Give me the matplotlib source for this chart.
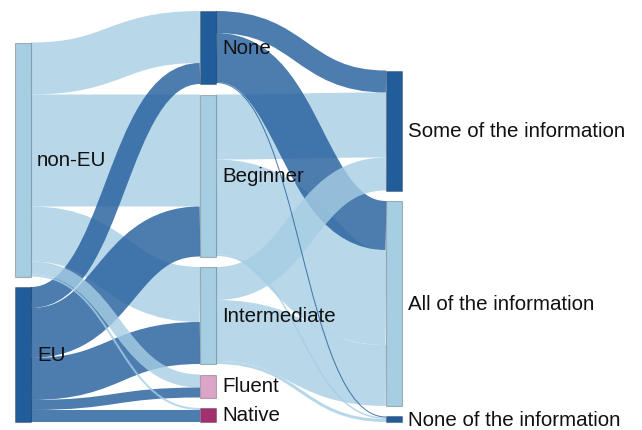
import matplotlib
matplotlib.use("Agg")
import matplotlib.pyplot as plt
from matplotlib.path import Path
from matplotlib.patches import PathPatch, Rectangle

# nodes, one list per column
origins = ["non-EU", "EU"]
levels = ["None", "Beginner", "Intermediate", "Fluent", "Native"]
outcomes = ["Some of the information", "All of the information",
            "None of the information"]

# origin -> language level (rows: origins, cols: levels)
origin_to_level = [
    [52, 112, 55, 13, 2],   # non-EU
    [21, 50, 42, 10, 12],   # EU
]
# language level -> information understood (rows: levels, cols: outcomes)
level_to_outcome = [
    [22, 49, 1],     # None
    [65, 95, 1.5],   # Beginner
    [33, 61, 3],     # Intermediate
    [0, 0, 0],       # Fluent
    [0, 0, 0],       # Native
]

LIGHT = "#a6cee3"
DARK = "#215d9b"
node_colors = {
    "non-EU": LIGHT, "EU": DARK,
    "None": DARK, "Beginner": LIGHT, "Intermediate": LIGHT,
    "Fluent": "#dba5c8", "Native": "#a3316f",
    "Some of the information": DARK, "All of the information": LIGHT,
    "None of the information": DARK,
}

columns = [origins, levels, outcomes]
col_x = [15, 200, 386]
node_w = 16
gap = 10.5
bottom = 423

# links list
links = []
for i, s in enumerate(origins):
    for j, t in enumerate(levels):
        if origin_to_level[i][j] > 0:
            links.append([s, t, origin_to_level[i][j]])
for i, s in enumerate(levels):
    for j, t in enumerate(outcomes):
        if level_to_outcome[i][j] > 0:
            links.append([s, t, level_to_outcome[i][j]])

# node size = max(in, out)
val_in, val_out = {}, {}
for s, t, v in links:
    val_out[s] = val_out.get(s, 0) + v
    val_in[t] = val_in.get(t, 0) + v

pos = {}
for c, names in enumerate(columns):
    sizes = [max(val_in.get(n, 0), val_out.get(n, 0)) for n in names]
    y = bottom - (sum(sizes) + gap * (len(names) - 1))
    for n, h in zip(names, sizes):
        pos[n] = [col_x[c], y, y + h]
        y += h + gap

# link offsets, sorted like d3-sankey
src_off = {n: pos[n][1] for n in pos}
tgt_off = {n: pos[n][1] for n in pos}
link_y = {}
for s, t, v in sorted(links, key=lambda l: (pos[l[0]][1], pos[l[1]][1])):
    link_y.setdefault((s, t), [0, 0])[0] = src_off[s] + v / 2
    src_off[s] += v
for s, t, v in sorted(links, key=lambda l: (pos[l[1]][1], pos[l[0]][1])):
    link_y[(s, t)][1] = tgt_off[t] + v / 2
    tgt_off[t] += v

fig = plt.figure(figsize=(6.42, 4.31), dpi=100)
ax = fig.add_axes([0, 0, 1, 1])
ax.set_xlim(0, 642)
ax.set_ylim(431, 0)
ax.axis("off")

# wide links first, thin ones on top
for s, t, v in sorted(links, key=lambda l: -l[2]):
    x0 = pos[s][0] + node_w
    x1 = pos[t][0]
    y0, y1 = link_y[(s, t)]
    xm = (x0 + x1) / 2
    path = Path([(x0, y0), (xm, y0), (xm, y1), (x1, y1)],
                [Path.MOVETO, Path.CURVE4, Path.CURVE4, Path.CURVE4])
    ax.add_patch(PathPatch(path, fill=False, edgecolor=node_colors[s],
                           alpha=0.8, lw=max(v, 1) * 0.72,
                           capstyle="butt"))

for n, (x, y0, y1) in pos.items():
    ax.add_patch(Rectangle((x, y0), node_w, y1 - y0,
                           facecolor=node_colors[n],
                           edgecolor=(0, 0, 0, 0.25), lw=0.8))
    ax.text(x + node_w + 6, (y0 + y1) / 2, n, ha="left", va="center",
            fontsize=14.8, family=["Liberation Sans", "DejaVu Sans"],
            color="#111111")

fig.savefig("out.png", dpi=100)
